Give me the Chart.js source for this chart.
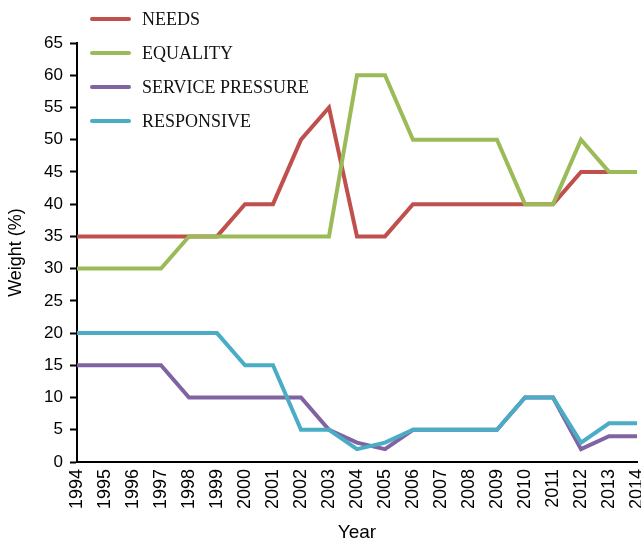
<!DOCTYPE html>
<html>
<head>
<meta charset="utf-8">
<script src="https://cdn.jsdelivr.net/npm/chart.js@4.4.1/dist/chart.umd.min.js"></script>
<style>
  html, body { margin: 0; padding: 0; background: #fff; }
  #wrap { position: relative; width: 641px; height: 542px; }
  #legend { position: absolute; left: 90px; top: 0; font-family: "Liberation Serif", "Times New Roman", serif; font-size: 18px; color: #111; }
  #legend .row { position: absolute; left: 0; height: 34px; white-space: nowrap; }
  #legend .sw { position: absolute; left: 0; width: 41px; height: 4px; border-radius: 2px; }
  #legend .lb { position: absolute; left: 52px; line-height: 20px; }
</style>
</head>
<body>
<div id="wrap">
  <canvas id="c" width="641" height="542"></canvas>
  <div id="legend"></div>
</div>
<script>
// Yearly weights (%) of the four allocation criteria
const years = ['1994','1995','1996','1997','1998','1999','2000','2001','2002','2003','2004',
               '2005','2006','2007','2008','2009','2010','2011','2012','2013','2014'];
const needs           = [35,35,35,35,35,35,40,40,50,55,35,35,40,40,40,40,40,40,45,45,45];
const equality        = [30,30,30,30,35,35,35,35,35,35,60,60,50,50,50,50,40,40,50,45,45];
const servicePressure = [15,15,15,15,10,10,10,10,10, 5, 3, 2, 5, 5, 5, 5,10,10, 2, 4, 4];
const responsive      = [20,20,20,20,20,20,15,15, 5, 5, 2, 3, 5, 5, 5, 5,10,10, 3, 6, 6];
const seriesNames  = ['NEEDS','EQUALITY','SERVICE PRESSURE','RESPONSIVE'];
const seriesColors = ['#c0504d','#9bbb59','#8064a2','#4bacc6'];
const seriesData   = [needs, equality, servicePressure, responsive];

const datasets = seriesNames.map((name, i) => ({
  label: name,
  data: seriesData[i],
  borderColor: seriesColors[i],
  backgroundColor: seriesColors[i],
  borderWidth: 4,
  pointRadius: 0,
  tension: 0,
  fill: false,
  borderJoinStyle: 'miter',
  order: seriesNames.length - i   // later series drawn on top
}));

const sans = 'Liberation Sans, Arial, Helvetica, sans-serif';

new Chart(document.getElementById('c'), {
  type: 'line',
  data: { labels: years, datasets },
  options: {
    responsive: false,
    animation: false,
    layout: { padding: { top: 43, right: 4, left: 0, bottom: 0 } },
    plugins: { legend: { display: false }, tooltip: { enabled: false } },
    scales: {
      x: {
        offset: false,
        grid: { display: false, drawTicks: false },
        border: { color: '#000', width: 2 },
        ticks: {
          color: '#000', font: { family: sans, size: 18 },
          minRotation: 90, maxRotation: 90, padding: 7, autoSkip: false
        },
        title: { display: true, text: 'Year', color: '#000',
                 font: { family: sans, size: 19, lineHeight: 1 }, padding: { top: 0, bottom: 0 } },
        afterFit: s => { s.height = 80; s.paddingLeft = 0; s.paddingRight = 0; }
      },
      y: {
        min: 0, max: 65,
        grid: { display: true, drawOnChartArea: false, drawTicks: true, tickLength: 7, color: '#000', tickWidth: 2 },
        border: { color: '#000', width: 2 },
        ticks: { stepSize: 5, color: '#000', font: { family: sans, size: 17 }, padding: 7 },
        title: { display: true, text: 'Weight (%)', color: '#000',
                 font: { family: sans, size: 18 }, padding: { top: 5, bottom: 0 } },
        afterFit: s => { s.width = 77; s.paddingTop = 0; s.paddingBottom = 0; }
      }
    }
  }
});

// Legend block in the upper left corner
const legend = document.getElementById('legend');
const rowTops = [9, 43, 77, 111];
seriesNames.forEach((name, i) => {
  const row = document.createElement('div');
  row.className = 'row';
  row.style.top = rowTops[i] + 'px';
  row.innerHTML = '<div class="sw" style="top:8px;background:' + seriesColors[i] + '"></div>' +
                  '<div class="lb" style="top:0">' + name + '</div>';
  legend.appendChild(row);
});
</script>
</body>
</html>
